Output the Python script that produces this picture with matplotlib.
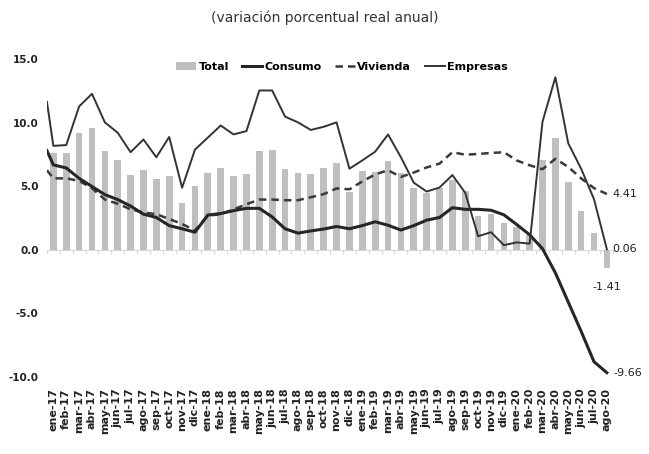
import numpy as np
import matplotlib
matplotlib.use("Agg")
import matplotlib.pyplot as plt

# ---------------------------------------------------------------------
# Data (annual real % change)
# ---------------------------------------------------------------------
months = [
    "ene-17", "feb-17", "mar-17", "abr-17", "may-17", "jun-17", "jul-17", "ago-17",
    "sep-17", "oct-17", "nov-17", "dic-17", "ene-18", "feb-18", "mar-18", "abr-18",
    "may-18", "jun-18", "jul-18", "ago-18", "sep-18", "oct-18", "nov-18", "dic-18",
    "ene-19", "feb-19", "mar-19", "abr-19", "may-19", "jun-19", "jul-19", "ago-19",
    "sep-19", "oct-19", "nov-19", "dic-19", "ene-20", "feb-20", "mar-20", "abr-20",
    "may-20", "jun-20", "jul-20", "ago-20",
]

total = [7.64, 7.64, 9.18, 9.6, 7.8, 7.1, 5.9, 6.26, 5.56, 5.8, 3.7, 5.05,
         6.05, 6.46, 5.8, 5.97, 7.8, 7.87, 6.4, 6.05, 5.97, 6.48, 6.82, 4.6,
         6.2, 6.15, 6.97, 6.1, 4.85, 4.5, 4.87, 5.5, 4.67, 2.7, 2.8, 2.1,
         1.8, 1.2, 7.05, 8.85, 5.35, 3.05, 1.3, -1.41]

# line series: first value sits on the left edge of the plot (previous month)
consumo = [7.82,
           6.7, 6.46, 5.64, 5.0, 4.36, 3.97, 3.46, 2.82, 2.56, 1.92, 1.67, 1.4,
           2.75, 2.87, 3.1, 3.28, 3.28, 2.6, 1.67, 1.33, 1.5, 1.65, 1.85, 1.67,
           1.92, 2.22, 1.95, 1.57, 1.92, 2.35, 2.56, 3.33, 3.2, 3.2, 3.13, 2.77,
           2.0, 1.2, 0.1, -1.8, -4.1, -6.4, -8.8, -9.66]

vivienda = [6.28,
            5.64, 5.64, 5.44, 4.87, 3.97, 3.64, 3.2, 2.95, 2.82, 2.44, 2.05, 1.54,
            2.7, 2.82, 3.2, 3.6, 3.97, 3.97, 3.92, 3.92, 4.15, 4.4, 4.85, 4.78,
            5.4, 5.95, 6.28, 5.75, 6.1, 6.5, 6.8, 7.7, 7.5, 7.56, 7.64, 7.7,
            7.05, 6.67, 6.36, 7.18, 6.54, 5.64, 4.87, 4.41]

empresas = [11.67,
            8.2, 8.26, 11.3, 12.3, 10.05, 9.23, 7.7, 8.7, 7.3, 8.9, 4.9, 7.9,
            8.85, 9.8, 9.1, 9.36, 12.56, 12.56, 10.5, 10.05, 9.45, 9.7, 10.05, 6.4,
            7.05, 7.74, 9.1, 7.3, 5.3, 4.6, 4.92, 5.9, 4.5, 1.08, 1.4, 0.38,
            0.6, 0.5, 10.1, 13.6, 8.4, 6.4, 4.0, 0.06]

yticks = [-10, -5, 0, 5, 10, 15]

# ---------------------------------------------------------------------
# Plot
# ---------------------------------------------------------------------
fig = plt.figure(figsize=(6.49, 4.54), dpi=100)
ax = fig.add_axes([0.0723, 0.1696, 0.8727, 0.6994])

x = np.arange(len(months))
x_line = np.r_[x[0] - 0.5, x]
dark = "#262626"

h_tot = ax.bar(x, total, width=0.52, color="#BFBFBF", label="Total", zorder=1)
h_con, = ax.plot(x_line, consumo, color=dark, lw=2.2, label="Consumo", zorder=3)
h_viv, = ax.plot(x_line, vivienda, color="#3a3a3a", lw=1.8, ls=(0, (3, 2)), label="Vivienda", zorder=2)
h_emp, = ax.plot(x_line, empresas, color="#333333", lw=1.4, label="Empresas", zorder=3)

ax.set_xlim(-0.5, len(months) - 0.5)
ax.set_ylim(-10, 15)
ax.set_yticks(yticks)
ax.set_yticklabels([f"{v:.1f}" for v in yticks], fontsize=7.5, fontweight="bold", color="#222222")
ax.set_xticks(x)
ax.set_xticklabels(months, rotation=90, fontsize=8, fontweight="bold", color="#222222")
ax.tick_params(axis="both", length=0, pad=6)
ax.tick_params(axis="x", pad=8)
for s in ax.spines.values():
    s.set_visible(False)

# zero axis with category separators
zero = ax.secondary_xaxis(10 / 25)
zero.set_xticks(np.arange(-0.5, len(months), 1))
zero.set_xticklabels([])
zero.tick_params(length=3, color="#d9d9d9", width=0.8)
zero.spines["bottom"].set_color("#d9d9d9")
zero.spines["bottom"].set_linewidth(0.8)
for k in ("top", "left", "right"):
    zero.spines[k].set_visible(False)

# end-point labels
last = len(months) - 1
lab = dict(fontsize=8, color="#222222", textcoords="offset points")
ax.annotate("4.41", (last, vivienda[-1]), xytext=(4, 0), va="center", ha="left", **lab)
ax.annotate("0.06", (last, empresas[-1]), xytext=(4, 0), va="center", ha="left", **lab)
ax.annotate("-1.41", (last, total[-1]), xytext=(0, -10), va="top", ha="center", **lab)
ax.annotate("-9.66", (last, consumo[-1]), xytext=(5, 0), va="center", ha="left", **lab)

ax.legend([h_tot, h_con, h_viv, h_emp], ["Total", "Consumo", "Vivienda", "Empresas"],
          loc="center", bbox_to_anchor=(0.521, 0.976), ncol=4, frameon=False,
          prop={"size": 8, "weight": "bold"}, handlelength=1.8, handletextpad=0.2,
          columnspacing=1.2)

fig.text(0.5, 0.96, "(variación porcentual real anual)", ha="center", va="center",
         fontsize=10, color="#333333")

fig.savefig("out.png", dpi=100)
